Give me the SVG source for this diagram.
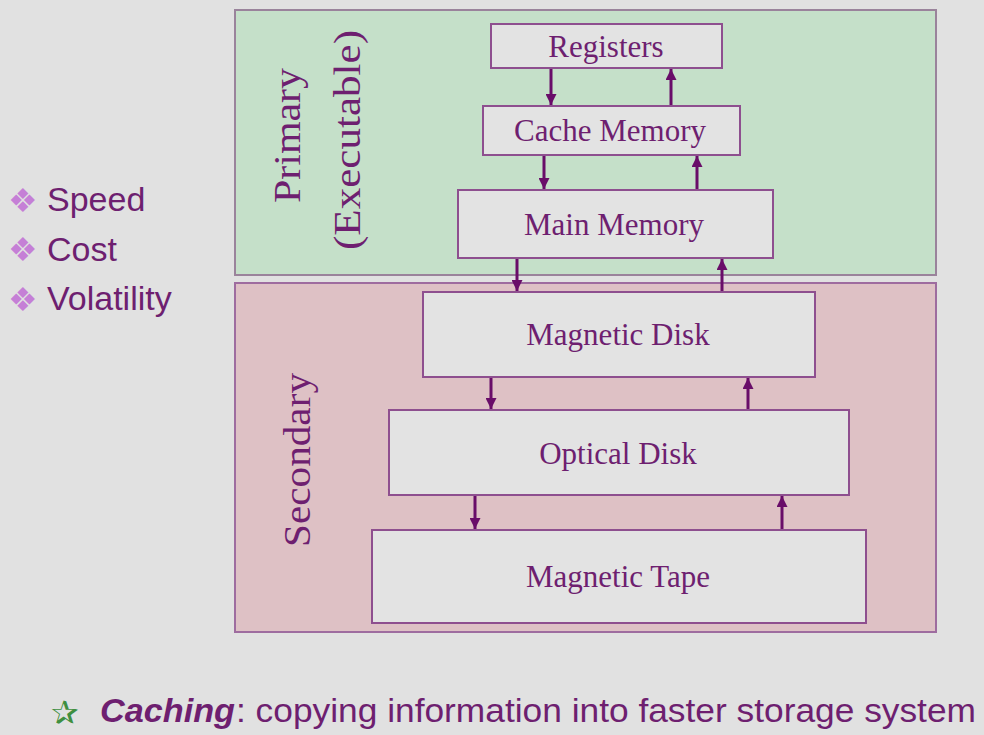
<svg xmlns="http://www.w3.org/2000/svg" width="984" height="735" viewBox="0 0 984 735">
<defs>
<style>
.bg{fill:#e1e1e1}
.node rect{fill:#e3e3e3;stroke:#8e4f8f;stroke-width:2}
.node text{font-family:"Liberation Serif","Times New Roman",serif;font-size:31px;fill:#6e1f70;text-anchor:middle}
.vlab{font-family:"Liberation Serif","Times New Roman",serif;font-size:37px;fill:#6e1f70;text-anchor:middle}
.conn line{stroke:#690d69;stroke-width:3;marker-end:url(#ah)}
.bul{font-family:"DejaVu Sans",sans-serif;font-size:33px;fill:#c57fd6}
.item{font-family:"Liberation Sans",Arial,sans-serif;font-size:34px;fill:#6e1f70}
.cap{font-family:"Liberation Sans",Arial,sans-serif;font-size:34px;fill:#6e1f70}
</style>
<marker id="ah" viewBox="0 0 10 10" refX="10" refY="5" markerWidth="11" markerHeight="11" markerUnits="userSpaceOnUse" orient="auto">
<path d="M0,0 L10,5 L0,10 z" fill="#690d69"/>
</marker>
</defs>
<rect class="bg" x="0" y="0" width="984" height="735"/>

<g id="primary">
<rect x="235" y="10" width="701" height="265" fill="#c5e0c9" stroke="#9a839b" stroke-width="2"/>
<text class="vlab" transform="translate(300,135.5) rotate(-90)" textLength="135" lengthAdjust="spacingAndGlyphs">Primary</text>
<text class="vlab" transform="translate(360,140) rotate(-90)" textLength="220" lengthAdjust="spacingAndGlyphs">(Executable)</text>
</g>
<g id="secondary">
<rect x="235" y="283" width="701" height="349" fill="#dec1c5" stroke="#9e6c9f" stroke-width="2"/>
<text class="vlab" transform="translate(310,460) rotate(-90)" textLength="174" lengthAdjust="spacingAndGlyphs">Secondary</text>
</g>

<g id="registers" class="node"><rect x="491" y="24" width="231" height="44"/><text x="606" y="57">Registers</text></g>
<g id="cache" class="node"><rect x="483" y="106" width="257" height="49"/><text x="610" y="141">Cache Memory</text></g>
<g id="main" class="node"><rect x="458" y="190" width="315" height="68"/><text x="614" y="235">Main Memory</text></g>
<g id="magdisk" class="node"><rect x="423" y="292" width="392" height="85"/><text x="618" y="345">Magnetic Disk</text></g>
<g id="optical" class="node"><rect x="389" y="410" width="460" height="85"/><text x="618" y="464">Optical Disk</text></g>
<g id="tape" class="node"><rect x="372" y="530" width="494" height="93"/><text x="618" y="587">Magnetic Tape</text></g>

<g id="connectors" class="conn">
<line x1="551" y1="69" x2="551" y2="105"/>
<line x1="671" y1="105" x2="671" y2="69"/>
<line x1="544" y1="156" x2="544" y2="189"/>
<line x1="697" y1="189" x2="697" y2="156"/>
<line x1="517" y1="259" x2="517" y2="291"/>
<line x1="722" y1="291" x2="722" y2="259"/>
<line x1="491" y1="378" x2="491" y2="409"/>
<line x1="748" y1="409" x2="748" y2="378"/>
<line x1="475" y1="496" x2="475" y2="529"/>
<line x1="782" y1="529" x2="782" y2="496"/>
</g>

<g id="criteria">
<text class="bul" x="8" y="212">❖</text><text class="item" x="47" y="211">Speed</text>
<text class="bul" x="8" y="261">❖</text><text class="item" x="47" y="261">Cost</text>
<text class="bul" x="8" y="311">❖</text><text class="item" x="47" y="310">Volatility</text>
</g>

<g id="caching">
<text x="51" y="724" font-family="DejaVu Sans,sans-serif" font-size="33" fill="#3f8f3f">✰</text>
<text class="cap" x="100" y="722" font-weight="bold" font-style="italic" textLength="135" lengthAdjust="spacingAndGlyphs">Caching</text>
<text class="cap" x="236" y="722" textLength="740" lengthAdjust="spacingAndGlyphs">: copying information into faster storage system</text>
</g>
</svg>
